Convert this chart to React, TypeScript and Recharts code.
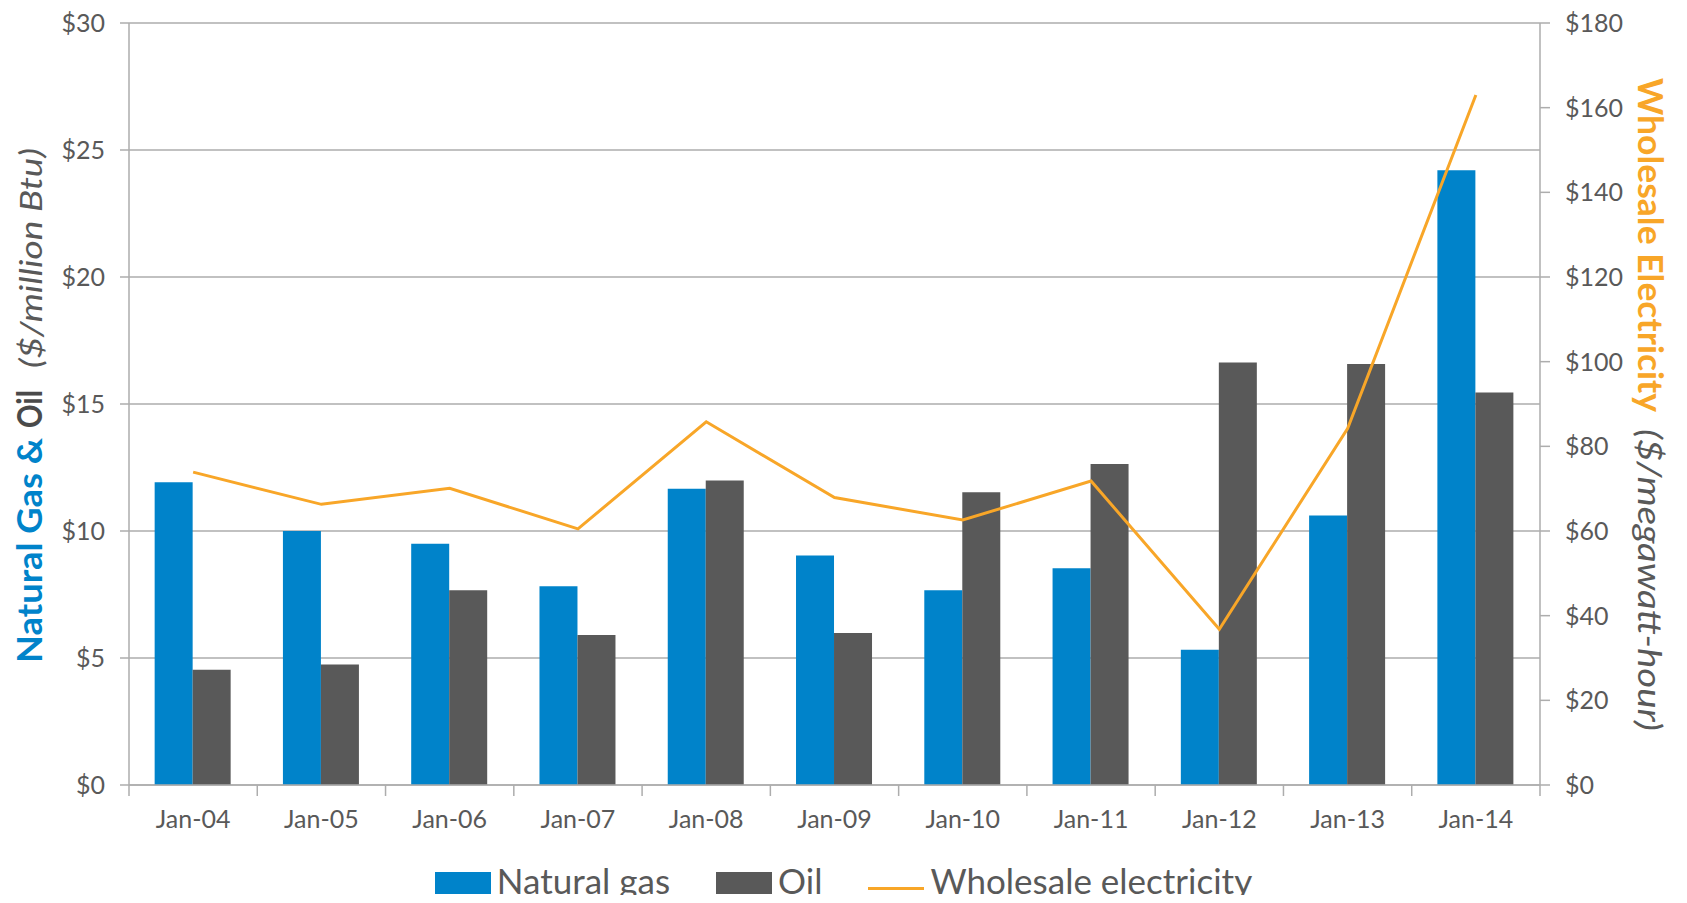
import React from "react";
import {
  ComposedChart,
  Bar,
  Line,
  XAxis,
  YAxis,
  CartesianGrid,
  Legend,
} from "recharts";

// Annual January prices, 2004-2014
const months = [
  "Jan-04",
  "Jan-05",
  "Jan-06",
  "Jan-07",
  "Jan-08",
  "Jan-09",
  "Jan-10",
  "Jan-11",
  "Jan-12",
  "Jan-13",
  "Jan-14",
];

// $/million Btu
const naturalGas = [11.92, 10.0, 9.5, 7.82, 11.66, 9.04, 7.67, 8.53, 5.32, 10.61, 24.2];
const oil = [4.54, 4.74, 7.67, 5.91, 11.99, 5.98, 11.53, 12.64, 16.63, 16.57, 15.45];

// $/megawatt-hour
const wholesaleElectricity = [73.9, 66.3, 70.1, 60.5, 85.8, 67.9, 62.6, 71.8, 36.8, 84.2, 163.0];

const fuelTicks = [0, 5, 10, 15, 20, 25, 30];
const powerTicks = [0, 20, 40, 60, 80, 100, 120, 140, 160, 180];

const data = months.map((month, i) => ({
  month,
  gas: naturalGas[i],
  oil: oil[i],
  power: wholesaleElectricity[i],
}));

const FONT = "Lato, 'Open Sans', sans-serif";
const BLUE = "#0083CA";
const GRAY = "#595959";
const ORANGE = "#F8A628";
const RULE = "#ADADAD";
const TEXT = "#595959";

// category label centred in its band, tick marks on the band edges
function MonthTick(props: any) {
  const { x, y, payload, index, visibleTicksCount } = props;
  const half = payload?.offset ?? 64;
  const last = index === visibleTicksCount - 1;
  return (
    <g>
      <line x1={x - half} x2={x - half} y1={y} y2={y + 11} stroke={RULE} strokeWidth={1.5} />
      {last && (
        <line x1={x + half} x2={x + half} y1={y} y2={y + 11} stroke={RULE} strokeWidth={1.5} />
      )}
      <text x={x} y={y + 43} textAnchor="middle" fill={TEXT} fontSize={25} fontFamily={FONT}>
        {payload.value}
      </text>
    </g>
  );
}

// a run of title text squeezed to a fixed length along the baseline
function Run(props: any) {
  const { x, len, children, ...rest } = props;
  return (
    <text x={x} y={0} fontFamily={FONT} textLength={len} lengthAdjust="spacingAndGlyphs" {...rest}>
      {children}
    </text>
  );
}

function LeftTitle(props: any) {
  const vb = props.viewBox ?? { x: 0, y: 23, width: 129, height: 762 };
  const bx = vb.x + 42;
  const by = vb.y + 640;
  return (
    <g transform={`translate(${bx}, ${by}) rotate(-90)`}>
      <Run x={0} len={225} fontWeight={700} fontSize={34} fill={BLUE}>
        Natural Gas &amp;
      </Run>
      <Run x={235} len={38} fontWeight={700} fontSize={34} fill="#4A4A4A">
        Oil
      </Run>
      <Run x={295} len={220} fontStyle="italic" fontSize={31} fill={TEXT}>
        ($/million Btu)
      </Run>
    </g>
  );
}

function RightTitle(props: any) {
  const vb = props.viewBox ?? { x: 1540, y: 23, width: 147, height: 762 };
  const bx = vb.x + 98;
  const by = vb.y + 55;
  return (
    <g transform={`translate(${bx}, ${by}) rotate(90)`}>
      <Run x={0} len={334} fontWeight={700} fontSize={34} fill={ORANGE}>
        Wholesale Electricity
      </Run>
      <Run x={351} len={302} fontStyle="italic" fontSize={32} fill={TEXT}>
        ($/megawatt-hour)
      </Run>
    </g>
  );
}

function LegendRow(props: any) {
  const { payload } = props;
  return (
    <div
      style={{
        height: 48,
        boxSizing: "border-box",
        paddingTop: 17,
        display: "flex",
        justifyContent: "center",
        alignItems: "flex-start",
        fontFamily: FONT,
        fontSize: 35,
        color: TEXT,
      }}
    >
      {(payload ?? []).map((entry: any, i: number) => (
        <div
          key={entry.value}
          style={{ display: "flex", alignItems: "flex-start", marginLeft: i === 0 ? 0 : 46 }}
        >
          {entry.type === "line" ? (
            <div style={{ width: 56, height: 22, position: "relative" }}>
              <div
                style={{
                  position: "absolute",
                  left: 0,
                  right: 0,
                  top: 15,
                  height: 3,
                  background: entry.color,
                }}
              />
            </div>
          ) : (
            <div style={{ width: 56, height: 22, background: entry.color }} />
          )}
          <span
            style={{
              marginLeft: 6,
              lineHeight: "22px",
              position: "relative",
              top: -3,
              whiteSpace: "nowrap",
            }}
          >
            {entry.value}
          </span>
        </div>
      ))}
    </div>
  );
}

export default function App() {
  return (
    <div style={{ margin: -8, width: 1687, height: 903, overflow: "hidden", background: "#fff" }}>
      <ComposedChart
        width={1687}
        height={903}
        data={data}
        margin={{ top: 23, right: 0, bottom: 0, left: 0 }}
        barCategoryGap="20%"
        barGap={0}
      >
        <CartesianGrid yAxisId="fuel" vertical={false} stroke={RULE} strokeWidth={1.5} />
        <XAxis
          dataKey="month"
          height={70}
          tickSize={0}
          tickMargin={0}
          tickLine={false}
          axisLine={{ stroke: RULE, strokeWidth: 1.5 }}
          tick={<MonthTick />}
          interval={0}
        />
        <YAxis
          yAxisId="fuel"
          width={129}
          domain={[0, 30]}
          ticks={fuelTicks}
          tickFormatter={(v: number) => `$${v}`}
          tickSize={9}
          tickMargin={15}
          tick={{ fill: TEXT, fontSize: 25, fontFamily: FONT }}
          tickLine={{ stroke: RULE, strokeWidth: 1.5 }}
          axisLine={{ stroke: RULE, strokeWidth: 1.5 }}
          label={<LeftTitle />}
        />
        <YAxis
          yAxisId="power"
          orientation="right"
          width={147}
          domain={[0, 180]}
          ticks={powerTicks}
          tickFormatter={(v: number) => `$${v}`}
          tickSize={10}
          tickMargin={15}
          tick={{ fill: TEXT, fontSize: 25, fontFamily: FONT, textAnchor: "start" }}
          tickLine={{ stroke: RULE, strokeWidth: 1.5 }}
          axisLine={{ stroke: RULE, strokeWidth: 1.5 }}
          label={<RightTitle />}
        />
        <Bar
          yAxisId="fuel"
          dataKey="gas"
          name="Natural gas"
          fill={BLUE}
          legendType="rect"
          isAnimationActive={false}
        />
        <Bar
          yAxisId="fuel"
          dataKey="oil"
          name="Oil"
          fill={GRAY}
          legendType="rect"
          isAnimationActive={false}
        />
        <Line
          yAxisId="power"
          dataKey="power"
          name="Wholesale electricity"
          type="linear"
          stroke={ORANGE}
          strokeWidth={3}
          dot={false}
          activeDot={false}
          legendType="line"
          isAnimationActive={false}
        />
        <Legend verticalAlign="bottom" content={<LegendRow />} />
      </ComposedChart>
    </div>
  );
}
